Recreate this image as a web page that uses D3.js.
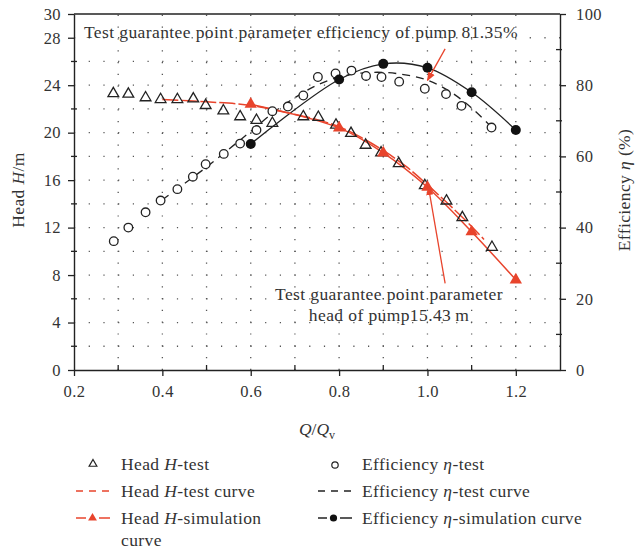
<!DOCTYPE html>
<html>
<head>
<meta charset="utf-8">
<script src="https://cdn.jsdelivr.net/npm/d3@7"></script>
<style>
  body { margin: 0; background: #fff; }
  text { font-family: "Liberation Serif", "DejaVu Serif", serif; fill: #333; }
</style>
</head>
<body>
<script>
// ---------- data ----------
const qHeadTest = [0.289,0.323,0.362,0.396,0.434,0.470,0.498,0.538,0.576,0.613,0.649,0.719,0.753,0.793,0.827,0.860,0.895,0.935,0.994,1.043,1.079,1.146];
const headTest  = [23.3,23.25,22.95,22.8,22.8,22.85,22.3,21.85,21.35,21.05,20.8,21.35,21.3,20.65,19.95,18.95,18.3,17.4,15.55,14.25,12.85,10.35];

const qEffTest = [0.290,0.323,0.362,0.396,0.434,0.469,0.498,0.539,0.576,0.613,0.649,0.684,0.719,0.752,0.792,0.828,0.861,0.896,0.936,0.994,1.042,1.077,1.145];
const effTest  = [36.2,40.0,44.3,47.6,50.8,54.3,57.8,60.7,63.6,67.4,72.7,74.0,77.1,82.3,83.3,84.1,82.6,82.3,81.0,79.0,77.5,74.2,68.1];

const qHeadCurve = [0.40,0.50,0.60,0.68,0.75,0.80,0.85,0.90,0.95,1.00,1.05,1.10,1.128];
const headCurve  = [22.8,22.6,22.3,21.7,21.1,20.5,19.6,18.5,17.2,15.6,13.9,12.1,11.0];

const qEffCurve = [0.40,0.45,0.50,0.55,0.60,0.65,0.70,0.75,0.80,0.85,0.90,0.95,1.00,1.05,1.10,1.15];
const effCurve  = [47.8,52.4,57.0,62.0,67.0,72.2,76.5,80.0,82.3,83.4,83.6,82.9,81.4,78.3,73.6,67.6];

const qSim    = [0.6,0.8,0.9,1.0,1.1,1.2];
const headSim = [22.4,20.4,18.3,15.4,11.65,7.6];
const effSim  = [63.5,81.6,86.0,84.9,78.0,67.4];

const xTicks     = [0.2,0.4,0.6,0.8,1.0,1.2];
const xMinor     = [0.3,0.5,0.7,0.9,1.1];
const xGrid      = [0.3,0.4,0.5,0.6,0.7,0.8,0.9,1.0,1.1,1.2];
const headTicks  = [0,4,8,12,16,20,24,28,30];
const headMinor  = [2,6,10,14,18,22,26];
const headGrid   = [2,4,6,8,10,12,14,16,18,20,22,24,26,28];
const effTicks   = [0,20,40,60,80,100];
const effMinor   = [10,30,50,70,90];

const guarQ = 1.0, guarEff = 81.35, guarHead = 15.43;

// ---------- setup ----------
const W = 638, H = 552;
const RED = "#e8442c", INK = "#222";
const LS = "0.4px";
const svg = d3.select("body").append("svg").attr("width", W).attr("height", H);

const x  = d3.scaleLinear().domain([0.2, 1.3]).range([74, 560]);
const yH = d3.scaleLinear().domain([0, 30]).range([370, 14]);
const yE = d3.scaleLinear().domain([0, 100]).range([370, 14]);

// ---------- grid ----------
const grid = svg.append("g").attr("stroke", "#555").attr("stroke-width", 1.3);
grid.selectAll("line.v").data(xGrid).join("line")
  .attr("x1", d => x(d)).attr("x2", d => x(d))
  .attr("y1", yH(0)).attr("y2", yH(30))
  .attr("stroke-dasharray", "1.2,10.6");
grid.selectAll("line.h").data(headGrid).join("line")
  .attr("y1", d => yH(d)).attr("y2", d => yH(d))
  .attr("x1", x(0.2)).attr("x2", x(1.3))
  .attr("stroke-dasharray", "1.2,13.5");

// ---------- axes ----------
const fs = 16.5;
const gx = svg.append("g").attr("transform", `translate(0,${yH(0)})`)
  .call(d3.axisBottom(x).tickValues(xTicks).tickFormat(d3.format(".1f")).tickSize(6).tickSizeOuter(0).tickPadding(9));
const gl = svg.append("g").attr("transform", `translate(${x(0.2)},0)`)
  .call(d3.axisLeft(yH).tickValues(headTicks).tickFormat(d3.format("d")).tickSize(6).tickSizeOuter(0).tickPadding(7));
const gr = svg.append("g").attr("transform", `translate(${x(1.3)},0)`)
  .call(d3.axisRight(yE).tickValues(effTicks).tickFormat(d3.format("d")).tickSize(6).tickSizeOuter(0).tickPadding(10));
[gx, gl, gr].forEach(g => {
  g.selectAll("path.domain").attr("stroke", INK).attr("stroke-width", 1.4);
  g.selectAll(".tick line").attr("stroke", INK).attr("stroke-width", 1.3);
  g.selectAll(".tick text").style("font-family", '"Liberation Serif", serif').style("font-size", fs + "px")
    .style("letter-spacing", LS).attr("fill", "#333");
});
// top border
svg.append("line").attr("x1", x(0.2)).attr("x2", x(1.3)).attr("y1", yH(30)).attr("y2", yH(30))
  .attr("stroke", INK).attr("stroke-width", 1.4);
// minor ticks (inward)
svg.append("g").selectAll("line").data(xMinor).join("line")
  .attr("x1", d => x(d)).attr("x2", d => x(d)).attr("y1", yH(0)).attr("y2", yH(0) - 5)
  .attr("stroke", INK).attr("stroke-width", 1.3);
svg.append("g").selectAll("line").data(headMinor).join("line")
  .attr("y1", d => yH(d)).attr("y2", d => yH(d)).attr("x1", x(0.2) - 3).attr("x2", x(0.2) + 3)
  .attr("stroke", INK).attr("stroke-width", 1.3);
svg.append("g").selectAll("line").data(effMinor).join("line")
  .attr("y1", d => yE(d)).attr("y2", d => yE(d)).attr("x1", x(1.3) - 4).attr("x2", x(1.3) + 2)
  .attr("stroke", INK).attr("stroke-width", 1.3);

// axis titles
const lt = svg.append("text").attr("transform", "translate(24,190) rotate(-90)")
  .attr("text-anchor", "middle").style("font-size", "17.5px").style("letter-spacing", LS);
lt.append("tspan").text("Head ");
lt.append("tspan").style("font-style", "italic").text("H");
lt.append("tspan").text("/m");

const rt = svg.append("text").attr("transform", "translate(630,190) rotate(-90)")
  .attr("text-anchor", "middle").style("font-size", "17.5px").style("letter-spacing", LS);
rt.append("tspan").text("Efficiency ");
rt.append("tspan").style("font-style", "italic").text("η");
rt.append("tspan").text(" (%)");

const bt = svg.append("text").attr("x", (x(0.2) + x(1.3)) / 2).attr("y", 435)
  .attr("text-anchor", "middle").style("font-size", "17.5px");
bt.append("tspan").style("font-style", "italic").text("Q");
bt.append("tspan").text("/");
bt.append("tspan").style("font-style", "italic").text("Q");
bt.append("tspan").attr("dy", 4).style("font-size", "12px").text("v");

// ---------- curves ----------
const zip = (a, b) => a.map((v, i) => [v, b[i]]);
const lineH = d3.line().x(d => x(d[0])).y(d => yH(d[1])).curve(d3.curveCatmullRom);
const lineE = d3.line().x(d => x(d[0])).y(d => yE(d[1])).curve(d3.curveCatmullRom);

svg.append("path").datum(zip(qEffCurve, effCurve)).attr("d", lineE)
  .attr("fill", "none").attr("stroke", INK).attr("stroke-width", 1.3).attr("stroke-dasharray", "8,6");
svg.append("path").datum(zip(qSim, effSim)).attr("d", lineE)
  .attr("fill", "none").attr("stroke", INK).attr("stroke-width", 1.3);
svg.append("path").datum(zip(qHeadCurve, headCurve)).attr("d", lineH)
  .attr("fill", "none").attr("stroke", RED).attr("stroke-width", 1.5).attr("stroke-dasharray", "16,3");
svg.append("path").datum(zip(qSim, headSim)).attr("d", lineH)
  .attr("fill", "none").attr("stroke", RED).attr("stroke-width", 1.5);

// ---------- markers ----------
const tri = d3.symbol(d3.symbolTriangle, 50);
svg.append("g").selectAll("path").data(zip(qHeadTest, headTest)).join("path")
  .attr("d", tri).attr("transform", d => `translate(${x(d[0])},${yH(d[1])})`)
  .attr("fill", "none").attr("stroke", INK).attr("stroke-width", 1.3);
svg.append("g").selectAll("circle").data(zip(qEffTest, effTest)).join("circle")
  .attr("cx", d => x(d[0])).attr("cy", d => yE(d[1])).attr("r", 4.3)
  .attr("fill", "#fff").attr("stroke", INK).attr("stroke-width", 1.3);
svg.append("g").selectAll("circle").data(zip(qSim, effSim)).join("circle")
  .attr("cx", d => x(d[0])).attr("cy", d => yE(d[1])).attr("r", 5).attr("fill", "#111");
svg.append("g").selectAll("path").data(zip(qSim, headSim)).join("path")
  .attr("d", d3.symbol(d3.symbolTriangle, 66)).attr("transform", d => `translate(${x(d[0])},${yH(d[1])})`)
  .attr("fill", RED);

// ---------- annotations ----------
svg.append("defs").append("marker").attr("id", "ah").attr("viewBox", "0 0 10 10")
  .attr("refX", 9).attr("refY", 5).attr("markerWidth", 7).attr("markerHeight", 7).attr("orient", "auto")
  .append("path").attr("d", "M0,1 L10,5 L0,9 z").attr("fill", RED);

svg.append("line").attr("x1", x(1.04)).attr("y1", yE(90.2)).attr("x2", x(guarQ)).attr("y2", yE(guarEff))
  .attr("stroke", RED).attr("stroke-width", 1.3).attr("marker-end", "url(#ah)");
svg.append("line").attr("x1", x(1.04)).attr("y1", yH(7.3)).attr("x2", x(guarQ) + 1).attr("y2", yH(guarHead))
  .attr("stroke", RED).attr("stroke-width", 1.3).attr("marker-end", "url(#ah)");

svg.append("text").attr("x", 84).attr("y", 38).style("font-size", "17.5px").style("letter-spacing", LS)
  .text("Test guarantee point parameter efficiency of pump " + guarEff.toFixed(2) + "%");
svg.append("text").attr("x", 389).attr("y", 300).attr("text-anchor", "middle").style("font-size", "17.5px").style("letter-spacing", LS)
  .text("Test guarantee point parameter");
svg.append("text").attr("x", 389).attr("y", 321).attr("text-anchor", "middle").style("font-size", "17.5px").style("letter-spacing", LS)
  .text("head of pump" + guarHead.toFixed(2) + "\u2009m");

// ---------- legend ----------
const leg = svg.append("g");
const lfs = "17.5px";
function legText(xp, yp, parts) {
  const t = leg.append("text").attr("x", xp).attr("y", yp).style("font-size", lfs).style("letter-spacing", LS);
  parts.forEach(p => t.append("tspan").style("font-style", p[1] ? "italic" : "normal").text(p[0]));
}
// col 1
leg.append("path").attr("d", d3.symbol(d3.symbolTriangle, 26)).attr("transform", "translate(93,464)")
  .attr("fill", "none").attr("stroke", INK).attr("stroke-width", 1.2);
legText(121, 470, [["Head "], ["H", 1], ["-test"]]);
leg.append("line").attr("x1", 76).attr("x2", 111).attr("y1", 491).attr("y2", 491)
  .attr("stroke", RED).attr("stroke-width", 1.4).attr("stroke-dasharray", "7,6");
legText(121, 497, [["Head "], ["H", 1], ["-test curve"]]);
leg.append("line").attr("x1", 76).attr("x2", 110).attr("y1", 518).attr("y2", 518)
  .attr("stroke", RED).attr("stroke-width", 1.4);
leg.append("rect").attr("x", 86).attr("y", 512).attr("width", 13).attr("height", 12).attr("fill", "#fff");
leg.append("path").attr("d", d3.symbol(d3.symbolTriangle, 34)).attr("transform", "translate(92.5,518)")
  .attr("fill", RED);
legText(121, 524, [["Head "], ["H", 1], ["-simulation"]]);
legText(121, 546, [["curve"]]);
// col 2
leg.append("circle").attr("cx", 335).attr("cy", 465).attr("r", 3.2)
  .attr("fill", "none").attr("stroke", INK).attr("stroke-width", 1.2);
legText(362, 470, [["Efficiency "], ["η", 1], ["-test"]]);
leg.append("line").attr("x1", 318).attr("x2", 353).attr("y1", 491).attr("y2", 491)
  .attr("stroke", INK).attr("stroke-width", 1.4).attr("stroke-dasharray", "7,6");
legText(362, 497, [["Efficiency "], ["η", 1], ["-test curve"]]);
leg.append("line").attr("x1", 318).attr("x2", 352).attr("y1", 518).attr("y2", 518)
  .attr("stroke", INK).attr("stroke-width", 1.4);
leg.append("rect").attr("x", 327).attr("y", 512).attr("width", 13).attr("height", 12).attr("fill", "#fff");
leg.append("circle").attr("cx", 333.5).attr("cy", 518).attr("r", 3.6).attr("fill", "#111");
legText(362, 524, [["Efficiency "], ["η", 1], ["-simulation curve"]]);
</script>
</body>
</html>
